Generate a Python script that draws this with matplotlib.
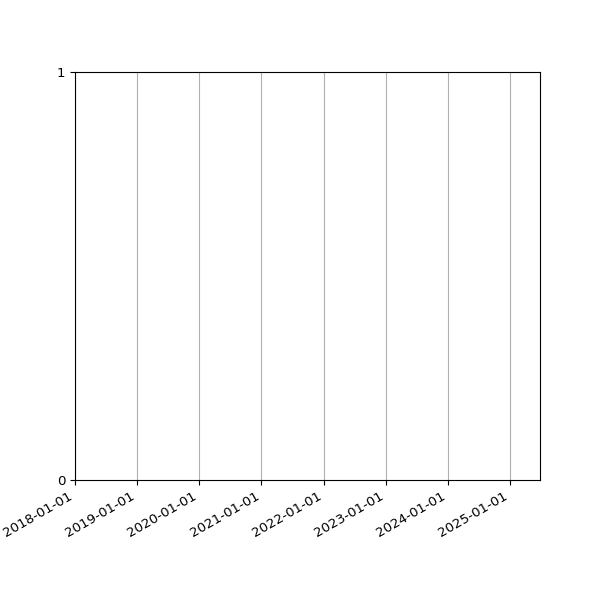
import matplotlib
matplotlib.use('Agg')
import matplotlib.pyplot as plt
import matplotlib.dates as mdates
import numpy as np
import pandas as pd

# empty timeline: only the range is known
start = pd.Timestamp('2018-01-01')
end = pd.Timestamp('2025-06-26')
tick_dates = pd.date_range('2018-01-01', '2025-01-01', freq='YS')
dates = []
values = []

fig, ax = plt.subplots(figsize=(6, 6), dpi=100)
ax.plot(dates, values)

ax.set_xlim(start, end)
ax.set_ylim(0, 1)
ax.set_xticks(tick_dates)
ax.xaxis.set_major_formatter(mdates.DateFormatter('%Y-%m-%d'))
ax.set_yticks([0, 1])
ax.tick_params(labelsize=9.6)
ax.xaxis.grid(True)
fig.autofmt_xdate()

plt.savefig('out.png', dpi=100)
